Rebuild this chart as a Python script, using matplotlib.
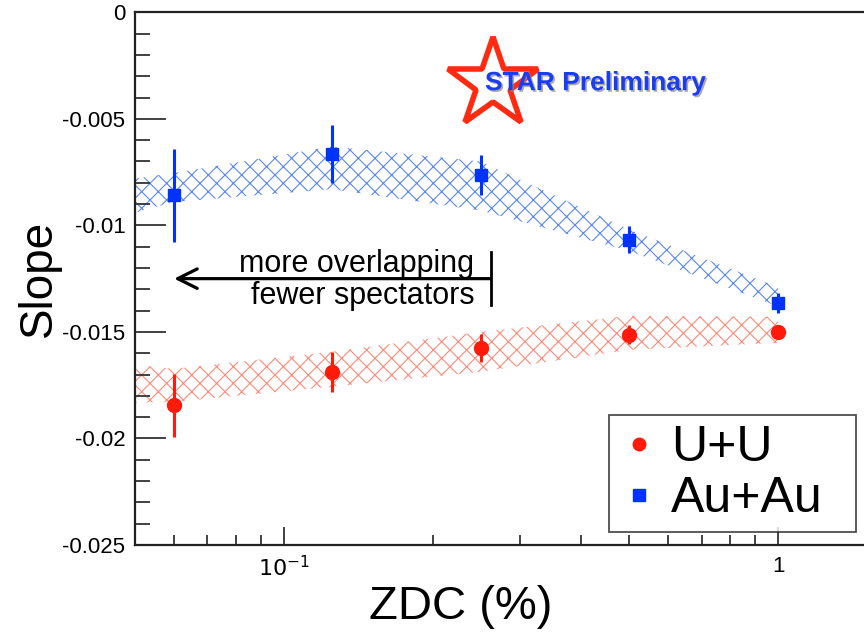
import matplotlib
matplotlib.use("Agg")
import matplotlib.pyplot as plt
import matplotlib.ticker as mticker
import matplotlib.patheffects as pe
from matplotlib.lines import Line2D

plt.rcParams['font.family'] = ['Liberation Sans', 'DejaVu Sans']
plt.rcParams['axes.unicode_minus'] = False
plt.rcParams['hatch.linewidth'] = 0.8

# ZDC bins (%) and slopes
zdc = [0.06, 0.125, 0.25, 0.5, 1.0]
uu_slope = [-0.01845, -0.01687, -0.01575, -0.01514, -0.0150]
uu_err = [0.00148, 0.00094, 0.00066, 0.00045, 0.0003]
au_slope = [-0.00859, -0.00665, -0.00763, -0.01068, -0.01363]
au_err = [0.00218, 0.00138, 0.00094, 0.00063, 0.00047]

# systematic bands
band_x = [0.05, 0.06, 0.125, 0.25, 0.5, 1.0]
uu_band_hi = [-0.01655, -0.01673, -0.01593, -0.0150, -0.01425, -0.01429]
uu_band_lo = [-0.01833, -0.01828, -0.01757, -0.01687, -0.01584, -0.01551]
au_band_hi = [-0.0078, -0.00754, -0.0063, -0.0070, -0.0102, -0.0129]
au_band_lo = [-0.0094, -0.0089, -0.0083, -0.0093, -0.0112, -0.0138]

y_ticks = [0, -0.005, -0.01, -0.015, -0.02, -0.025]

red = '#ff1a0a'
blue = '#0033ff'

fig = plt.figure(figsize=(8.64, 6.33), dpi=100)
ax = fig.add_axes([0.1563, 0.139, 0.8437, 0.8416])

ax.fill_between(band_x, uu_band_lo, uu_band_hi, facecolor='none',
                edgecolor='#ff8a7a', hatch='xx', linewidth=0)
ax.fill_between(band_x, au_band_lo, au_band_hi, facecolor='none',
                edgecolor='#5a86f5', hatch='xx', linewidth=0)

ax.errorbar(zdc, uu_slope, yerr=uu_err, fmt='o', color=red, ms=10,
            elinewidth=2.2, capsize=0, zorder=5)
ax.errorbar(zdc, au_slope, yerr=au_err, fmt='s', color=blue, ms=9,
            elinewidth=2.2, capsize=0, zorder=5)

ax.set_xscale('log')
ax.set_xlim(0.05, 1.492)
ax.set_ylim(-0.025, 0)

ax.xaxis.set_major_locator(mticker.FixedLocator([0.1, 1]))
ax.xaxis.set_major_formatter(mticker.FixedFormatter([r'$10^{-1}$', '1']))
ax.xaxis.set_minor_locator(mticker.LogLocator(base=10, subs=range(2, 10)))
ax.xaxis.set_minor_formatter(mticker.NullFormatter())
ax.yaxis.set_major_locator(mticker.FixedLocator(y_ticks))
ax.yaxis.set_major_formatter(mticker.FuncFormatter(lambda v, p: f'{v:g}'))
ax.yaxis.set_minor_locator(mticker.MultipleLocator(0.001))

ax.tick_params(which='both', direction='in', top=False, right=False,
               color='#333333', width=1.3)
ax.tick_params(axis='y', which='major', length=22, labelsize=16, pad=7)
ax.tick_params(axis='y', which='minor', length=11)
ax.tick_params(axis='x', which='major', length=13, labelsize=16, pad=8)
ax.tick_params(axis='x', which='minor', length=7)
for s in ['left', 'bottom', 'top']:
    ax.spines[s].set_linewidth(1.6)
    ax.spines[s].set_color('#222222')
ax.spines['right'].set_visible(False)

ax.set_xlabel('ZDC (%)', fontsize=34)
ax.xaxis.set_label_coords(0.447, -0.075)
ax.set_ylabel('Slope', fontsize=33)
ax.yaxis.set_label_coords(-0.102, 0.5)

# arrow annotation
ax.annotate('', xy=(0.06, -0.0125), xytext=(0.262, -0.0125),
            arrowprops=dict(arrowstyle='->,head_length=0.7,head_width=0.35',
                            lw=2.3, color='black', mutation_scale=20,
                            shrinkA=0, shrinkB=0))
ax.plot([0.262, 0.262], [-0.01125, -0.01373], color='black', lw=2)
ax.text(0.243, -0.0118, 'more overlapping', fontsize=22, ha='right', va='center')
ax.text(0.243, -0.0133, 'fewer spectators', fontsize=22, ha='right', va='center')

# STAR Preliminary logo
ax.plot([0.491], [0.866], marker='*', ms=68, mfc='white', mec='#ff2a10',
        mew=4, transform=ax.transAxes, clip_on=False)
ax.text(0.48, 0.867, 'STAR Preliminary', transform=ax.transAxes, fontsize=19,
        fontweight='bold', color='#1a3cf5', ha='left', va='center',
        path_effects=[pe.withSimplePatchShadow(offset=(1.2, -1.2),
                                               shadow_rgbFace='#888888', alpha=0.7)])

handles = [Line2D([], [], ls='none', marker='o', color=red, ms=9),
           Line2D([], [], ls='none', marker='s', color=blue, ms=8)]
leg = ax.legend(handles, ['U+U', 'Au+Au'], loc='lower left',
                bbox_to_anchor=(0.650, 0.0244, 0.339, 0.225), mode='expand',
                fontsize=36, frameon=True, fancybox=False, handlelength=0.8,
                handletextpad=0.25, borderpad=0.2, labelspacing=0.1,
                borderaxespad=0)
leg.get_frame().set_edgecolor('#222222')
leg.get_frame().set_linewidth(1.3)

fig.savefig('out.png', dpi=100)
